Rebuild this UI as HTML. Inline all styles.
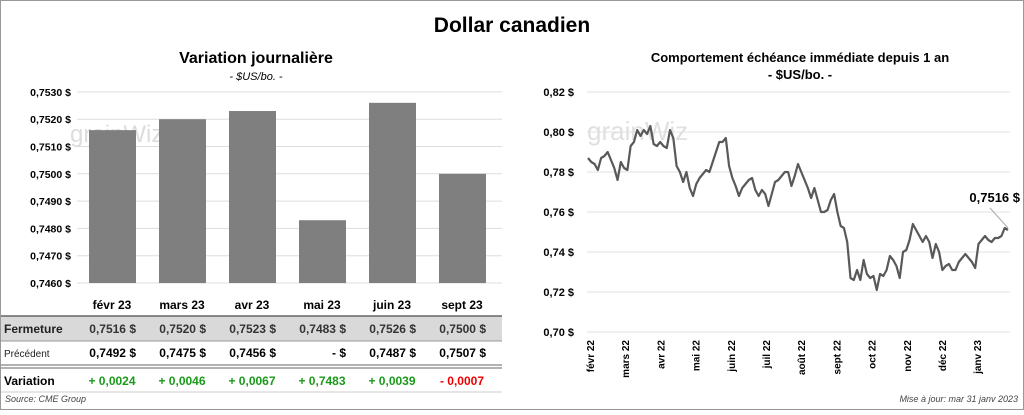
<!DOCTYPE html>
<html><head><meta charset="utf-8"><style>
body{margin:0;width:1024px;height:410px;background:#fff;font-family:"Liberation Sans",sans-serif;overflow:hidden}
svg text{font-family:"Liberation Sans",sans-serif}
</style></head><body>
<svg id="s" width="1024" height="410">
<rect x="0.5" y="0.5" width="1023" height="409" fill="#fff" stroke="#999"/>
<text x="512" y="32" text-anchor="middle" font-size="21" font-weight="bold">Dollar canadien</text>
<text x="256" y="63" text-anchor="middle" font-size="16" font-weight="bold">Variation  journalière</text>
<text x="256" y="80" text-anchor="middle" font-size="11" font-style="italic">- $US/bo. -</text>
<text x="800" y="62" text-anchor="middle" font-size="13" font-weight="bold">Comportement échéance immédiate depuis 1 an</text>
<text x="800" y="79" text-anchor="middle" font-size="13" font-weight="bold">- $US/bo. -</text>
<text x="70" y="142" font-size="24" fill="#ddd">grainWiz</text>
<text x="587" y="140" font-size="26" fill="#e0e0e0">grainWiz</text>
<g id="left"></g><g id="right"></g><g id="tbl"></g>
<text x="5" y="402" font-size="9" font-style="italic" fill="#444">Source: CME Group</text>
<text x="1018" y="402" text-anchor="end" font-size="9" font-style="italic" fill="#444">Mise à jour: mar 31 janv 2023</text>
</svg>
<script>
const barCats=["févr 23","mars 23","avr 23","mai 23","juin 23","sept 23"];
const barVals=[0.7516,0.7520,0.7523,0.7483,0.7526,0.7500];
const barTicks=[0.7460,0.7470,0.7480,0.7490,0.7500,0.7510,0.7520,0.7530];
const prevVals=["0,7492","0,7475","0,7456","-","0,7487","0,7507"];
const varVals=["+ 0,0024","+ 0,0046","+ 0,0067","+ 0,7483","+ 0,0039","- 0,0007"];
const lineTicks=[0.70,0.72,0.74,0.76,0.78,0.80,0.82];
const monthLabels=["févr 22","mars 22","avr 22","mai 22","juin 22","juil 22","août 22","sept 22","oct 22","nov 22","déc 22","janv 23"];
const lineVals=[0.787,0.785,0.784,0.781,0.787,0.788,0.790,0.786,0.782,0.776,0.785,0.782,0.781,0.793,0.795,0.801,0.798,0.801,0.799,0.803,0.794,0.793,0.795,0.793,0.792,0.801,0.797,0.783,0.780,0.775,0.780,0.772,0.768,0.774,0.777,0.779,0.781,0.780,0.785,0.790,0.795,0.795,0.797,0.783,0.777,0.773,0.768,0.772,0.774,0.776,0.777,0.771,0.768,0.771,0.769,0.763,0.769,0.775,0.776,0.778,0.780,0.780,0.773,0.778,0.784,0.780,0.776,0.772,0.767,0.772,0.766,0.760,0.760,0.761,0.766,0.769,0.760,0.753,0.752,0.745,0.727,0.726,0.731,0.726,0.736,0.729,0.727,0.728,0.721,0.729,0.728,0.731,0.738,0.736,0.733,0.727,0.740,0.741,0.746,0.754,0.751,0.748,0.745,0.748,0.745,0.737,0.744,0.740,0.731,0.733,0.734,0.731,0.731,0.735,0.737,0.739,0.737,0.735,0.732,0.744,0.746,0.748,0.746,0.745,0.747,0.747,0.748,0.752,0.751];
const NS="http://www.w3.org/2000/svg";
function mk(p,t,a,txt){const e=document.createElementNS(NS,t);for(const k in a)e.setAttribute(k,a[k]);if(txt!=null)e.textContent=txt;p.appendChild(e);return e;}
const fmt4=v=>v.toFixed(4).replace('.',',')+" $";
const L=document.getElementById('left');
const ly=v=>283-(v-0.7460)/0.0010*27.3;
const bx=i=>89+i*70;
barTicks.forEach(t=>{
 const g=mk(L,'line',{x1:77,x2:502,y1:ly(t),y2:ly(t),stroke:'#ddd'});
 
 
 const lb=mk(L,'text',{x:71,y:ly(t)+4,'text-anchor':'end','font-size':10.5,'font-weight':'bold'},fmt4(t));
 
 
});
barVals.forEach((v,i)=>{
 const r=mk(L,'rect',{x:bx(i),y:ly(v),width:47,height:283-ly(v),fill:'#7f7f7f'});
 
 
});
const T=document.getElementById('tbl');
mk(T,'rect',{x:1,y:316,width:501,height:25,fill:'#d9d9d9'});
mk(T,'line',{x1:1,x2:502,y1:316,y2:316,stroke:'#666','stroke-width':1.5});
mk(T,'line',{x1:1,x2:502,y1:341,y2:341,stroke:'#999'});
mk(T,'line',{x1:1,x2:502,y1:365,y2:365,stroke:'#666'});
mk(T,'line',{x1:1,x2:502,y1:368,y2:368,stroke:'#666'});
mk(T,'line',{x1:1,x2:502,y1:392,y2:392,stroke:'#ccc'});
const h1=mk(T,'text',{x:4,y:333,'font-size':12,'font-weight':'bold',fill:'#222'},"Fermeture");

const h2=mk(T,'text',{x:4,y:357,'font-size':10,fill:'#222'},"Précédent");

const h3=mk(T,'text',{x:4,y:385,'font-size':12,'font-weight':'bold'},"Variation");

barCats.forEach((c,i)=>{
 const cx=bx(i)+23;
 const a=mk(T,'text',{x:cx,y:309,'text-anchor':'middle','font-size':12,'font-weight':'bold'},c);
 
 const b=mk(T,'text',{x:cx+24,y:333,'text-anchor':'end','font-size':12,'font-weight':'bold',fill:'#333'},barVals[i].toFixed(4).replace('.',',')+"  $");
 
 const d=mk(T,'text',{x:cx+24,y:357,'text-anchor':'end','font-size':12,'font-weight':'bold'},prevVals[i]==="-"?"-       $":prevVals[i]+"  $");
 
 const e=mk(T,'text',{x:cx,y:385,'text-anchor':'middle','font-size':12,'font-weight':'bold',fill:varVals[i][0]==='-'?'#e00':'#1a9a1a'},varVals[i]);
 
});
const R=document.getElementById('right');
const x0=588,x1=1008;
const ry=v=>332-(v-0.70)/0.02*40;
const rx=i=>x0+i*(x1-x0)/(lineVals.length-1);
lineTicks.forEach(t=>{
 const g=mk(R,'line',{x1:587,x2:1010,y1:ry(t),y2:ry(t),stroke:'#e0e0e0'});
 
 const lb=mk(R,'text',{x:574,y:ry(t)+4,'text-anchor':'end','font-size':11,'font-weight':'bold'},t.toFixed(2).replace('.',',')+" $");
 
});
monthLabels.forEach((m,i)=>{
 const x=594+i*35.2;
 const t=mk(R,'text',{x:x,y:340,'text-anchor':'end','font-size':10,'font-weight':'bold',transform:`rotate(-90 ${x} 340)`},m);
 
});
const pl=mk(R,'polyline',{points:lineVals.map((v,i)=>rx(i)+','+ry(v)).join(' '),fill:'none',stroke:'#595959','stroke-width':2.2,'stroke-linejoin':'round'});

const lv=lineVals[lineVals.length-1],lx=rx(lineVals.length-1);
mk(R,'line',{x1:lx,y1:ry(lv)-2,x2:lx-18,y2:ry(lv)-22,stroke:'#aaa'});
const ll=mk(R,'text',{x:1020,y:ry(lv)-28,'text-anchor':'end','font-size':13,'font-weight':'bold'},"0,7516 $");

</script>
</body></html>
